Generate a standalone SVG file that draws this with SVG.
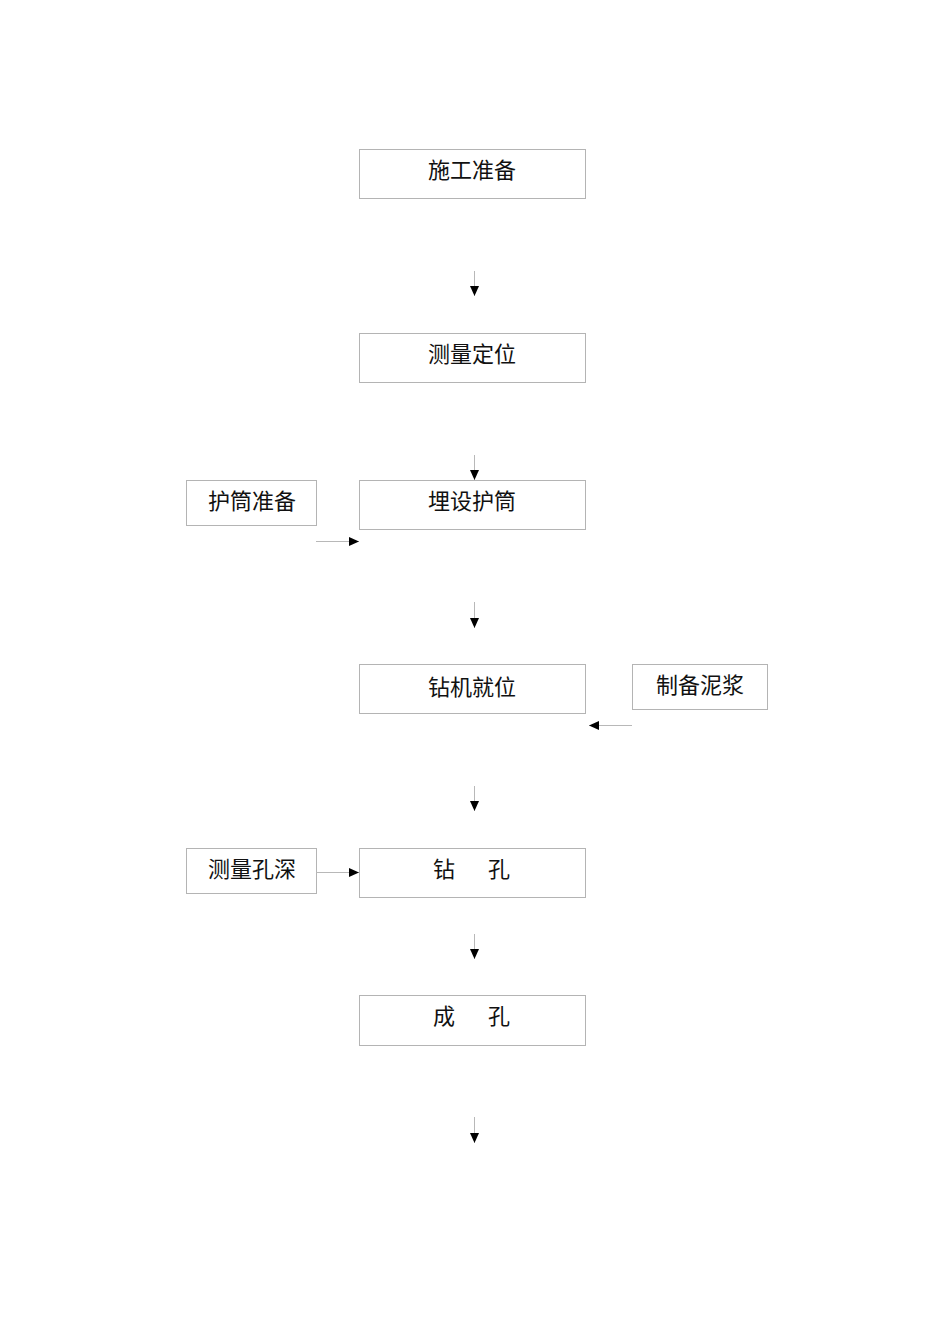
<svg xmlns="http://www.w3.org/2000/svg" width="950" height="1344" viewBox="0 0 950 1344">
<style>
.box{fill:#ffffff;stroke:#b4b4b4;stroke-width:1}
.t{font-family:"Noto Sans CJK SC","Noto Sans",sans-serif;font-size:22px;fill:#111;text-anchor:middle}
.c{stroke:#b8b8b8;stroke-width:1;fill:none;marker-end:url(#ah)}
</style>
<defs>
<marker id="ah" markerUnits="userSpaceOnUse" markerWidth="10" markerHeight="9" refX="10" refY="4.5" orient="auto">
<path d="M0,0 L10,4.5 L0,9 z" fill="#000"/>
</marker>
</defs>
<rect width="950" height="1344" fill="#fff"/>
<g id="n1"><rect class="box" x="359.5" y="149.5" width="226" height="49"/><text class="t" x="472" y="178">施工准备</text></g>
<g id="n2"><rect class="box" x="359.5" y="333.5" width="226" height="49"/><text class="t" x="472" y="362">测量定位</text></g>
<g id="n3"><rect class="box" x="359.5" y="480.5" width="226" height="49"/><text class="t" x="472" y="509">埋设护筒</text></g>
<g id="n4"><rect class="box" x="186.5" y="480.5" width="130" height="45"/><text class="t" x="252" y="509">护筒准备</text></g>
<g id="n5"><rect class="box" x="359.5" y="664.5" width="226" height="49"/><text class="t" x="472" y="695">钻机就位</text></g>
<g id="n6"><rect class="box" x="632.5" y="664.5" width="135" height="45"/><text class="t" x="700" y="693">制备泥浆</text></g>
<g id="n7"><rect class="box" x="186.5" y="848.5" width="130" height="45"/><text class="t" x="252" y="877">测量孔深</text></g>
<g id="n8"><rect class="box" x="359.5" y="848.5" width="226" height="49"/><text class="t" x="444" y="877">钻</text><text class="t" x="499" y="877">孔</text></g>
<g id="n9"><rect class="box" x="359.5" y="995.5" width="226" height="50"/><text class="t" x="444" y="1024">成</text><text class="t" x="499" y="1024">孔</text></g>
<g id="connectors">
<path class="c" d="M474.5,271 V296"/>
<path class="c" d="M474.5,455 V480"/>
<path class="c" d="M316,541.5 H359"/>
<path class="c" d="M474.5,602 V628"/>
<path class="c" d="M632,725.5 H589"/>
<path class="c" d="M474.5,786 V811"/>
<path class="c" d="M316,872.5 H359"/>
<path class="c" d="M474.5,934 V959"/>
<path class="c" d="M474.5,1117 V1143"/>
</g>
</svg>
